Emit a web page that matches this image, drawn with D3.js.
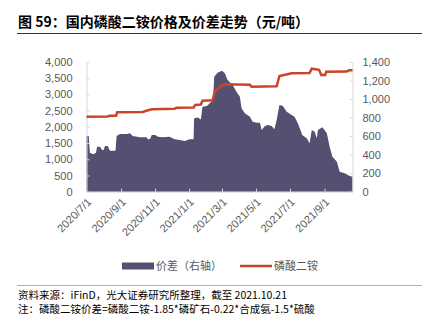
<!DOCTYPE html>
<html><head><meta charset="utf-8">
<script src="https://cdn.jsdelivr.net/npm/d3@7"></script>
<style>
html,body{margin:0;padding:0;background:#fff;}
svg{display:block;}
text{font-family:"Liberation Sans","Noto Sans CJK SC",sans-serif;}
.cjk{font-family:"Noto Sans CJK SC","Liberation Sans",sans-serif;}
</style></head>
<body>
<script>
// ---- data ----
const title = "图 59：国内磷酸二铵价格及价差走势（元/吨）";
const source = "资料来源：iFinD，光大证券研究所整理，截至 2021.10.21";
const note = "注：磷酸二铵价差=磷酸二铵-1.85*磷矿石-0.22*合成氨-1.5*硫酸";
const seriesNames = ["价差（右轴）", "磷酸二铵"];
const leftTicks = [0,500,1000,1500,2000,2500,3000,3500,4000];
const rightTicks = [0,200,400,600,800,1000,1200,1400];
const xTickLabels = ["2020/7/1","2020/9/1","2020/11/1","2021/1/1","2021/3/1","2021/5/1","2021/7/1","2021/9/1"];
const xDomain = ["2020-07-01","2021-10-21"];

// 价差 (right axis)
const spreadDates = ["2020-07-01","2020-07-05","2020-07-07","2020-07-13","2020-07-18","2020-07-20","2020-07-25","2020-07-29","2020-08-01","2020-08-03","2020-08-08","2020-08-12","2020-08-22","2020-08-24","2020-08-30","2020-09-11","2020-09-17","2020-09-22","2020-10-05","2020-10-17","2020-10-19","2020-10-23","2020-10-26","2020-11-01","2020-11-06","2020-11-15","2020-11-27","2020-12-06","2020-12-15","2020-12-24","2021-01-02","2021-01-09","2021-01-10","2021-01-17","2021-01-22","2021-01-25","2021-02-02","2021-02-07","2021-02-13","2021-02-15","2021-02-21","2021-03-01","2021-03-06","2021-03-11","2021-03-20","2021-03-27","2021-04-02","2021-04-05","2021-04-11","2021-04-20","2021-04-25","2021-05-02","2021-05-08","2021-05-11","2021-05-17","2021-05-22","2021-05-29","2021-06-03","2021-06-07","2021-06-12","2021-06-18","2021-06-25","2021-07-04","2021-07-09","2021-07-15","2021-07-23","2021-07-31","2021-08-05","2021-08-09","2021-08-14","2021-08-18","2021-08-20","2021-08-28","2021-09-05","2021-09-10","2021-09-15","2021-09-23","2021-09-28","2021-10-07","2021-10-16","2021-10-21"];
const spreadValues = [600,600,420,405,420,486,486,450,450,493,493,443,443,601,623,623,630,601,587,587,565,570,612,612,594,587,594,565,558,547,565,565,792,800,780,918,925,954,990,1241,1284,1306,1278,1206,1152,1080,1025,900,846,810,756,745,745,666,709,720,710,673,774,936,925,864,828,810,738,612,576,522,666,648,576,666,695,630,486,378,324,216,198,170,162];

// 磷酸二铵 (left axis)
const priceDates = ["2020-07-01","2020-08-08","2020-08-12","2020-08-23","2020-08-25","2020-10-10","2020-10-15","2020-10-26","2020-12-06","2020-12-10","2021-01-09","2021-01-12","2021-01-22","2021-01-25","2021-02-12","2021-02-16","2021-02-21","2021-02-27","2021-03-06","2021-04-20","2021-04-23","2021-06-07","2021-06-12","2021-07-04","2021-08-05","2021-08-09","2021-08-22","2021-08-26","2021-09-02","2021-09-04","2021-10-10","2021-10-16","2021-10-21"];
const priceValues = [2313,2320,2340,2345,2449,2460,2489,2541,2560,2591,2600,2674,2690,2807,2820,3080,3160,3260,3312,3300,3238,3250,3568,3651,3660,3793,3760,3599,3600,3701,3705,3750,3740];

// ---- chart ----
const W = 429, H = 324;
const areaColor = "#545072", lineColor = "#CC4426", txt = "#595959", axisC = "#d9d9d9";
const parse = d3.timeParse("%Y-%m-%d");
const m = {l:86.5, r:352.5, t:62, b:191.7};

const svg = d3.select("body").append("svg").attr("width", W).attr("height", H);

svg.append("text").attr("class","cjk").attr("x",18).attr("y",27)
  .attr("font-size",14).attr("font-weight","bold").attr("fill","#000").text(title);
svg.append("line").attr("x1",17).attr("x2",422).attr("y1",33.5).attr("y2",33.5)
  .attr("stroke","#333").attr("stroke-width",1);

const x = d3.scaleTime().domain(xDomain.map(parse)).range([m.l, m.r]);
const yL = d3.scaleLinear().domain([0,4000]).range([m.b, m.t]);
const yR = d3.scaleLinear().domain([0,1400]).range([m.b, m.t]);

const spread = spreadDates.map((d,i)=>({d:parse(d), v:spreadValues[i]}));
const price = priceDates.map((d,i)=>({d:parse(d), v:priceValues[i]}));

svg.append("path").datum(spread)
  .attr("d", d3.area().x(p=>x(p.d)).y0(m.b).y1(p=>yR(p.v)))
  .attr("fill", areaColor);

// axes
const gL = svg.append("g").attr("transform",`translate(${m.l},0)`)
  .call(d3.axisLeft(yL).tickValues(leftTicks).tickFormat(d3.format(",")).tickSizeInner(-3).tickSizeOuter(0).tickPadding(14));
const gR = svg.append("g").attr("transform",`translate(${m.r},0)`)
  .call(d3.axisRight(yR).tickValues(rightTicks).tickFormat(d3.format(",")).tickSizeInner(-3).tickSizeOuter(0).tickPadding(10));
const xTicks = xTickLabels.map(s=>d3.timeParse("%Y/%-m/%-d")(s));
const gB = svg.append("g").attr("transform",`translate(0,${m.b})`)
  .call(d3.axisBottom(x).tickValues(xTicks).tickFormat(d3.timeFormat("%Y/%-m/%-d")).tickSizeInner(-3).tickSizeOuter(0));
[gL,gR,gB].forEach(g=>{
  g.select(".domain").attr("stroke",axisC);
  g.selectAll(".tick line").attr("stroke",axisC);
  g.selectAll("text").attr("fill",txt).attr("font-size",11)
   .attr("font-family",'"Liberation Sans",sans-serif');
});
gB.selectAll(".tick text").attr("font-size",11).attr("y",0).attr("dy",0)
  .attr("text-anchor","end").attr("transform","translate(5,11) rotate(-45)");
gB.selectAll(".tick").filter((d,i)=>i===0).select("line").remove();

svg.append("path").datum(price)
  .attr("d", d3.line().x(p=>x(p.d)).y(p=>yL(p.v)))
  .attr("fill","none").attr("stroke", lineColor).attr("stroke-width",2.5);

// legend
const ly = 266;
svg.append("rect").attr("x",122).attr("y",ly-3.5).attr("width",32).attr("height",7).attr("fill",areaColor);
svg.append("text").attr("class","cjk").attr("x",156).attr("y",ly).attr("dy","0.35em")
  .attr("font-size",11).attr("fill",txt).text(seriesNames[0]);
svg.append("line").attr("x1",240).attr("x2",272).attr("y1",ly).attr("y2",ly)
  .attr("stroke",lineColor).attr("stroke-width",2.5);
svg.append("text").attr("class","cjk").attr("x",274).attr("y",ly).attr("dy","0.35em")
  .attr("font-size",11).attr("fill",txt).text(seriesNames[1]);

// footer
svg.append("line").attr("x1",17).attr("x2",422).attr("y1",285.5).attr("y2",285.5)
  .attr("stroke","#9a9a9a").attr("stroke-width",0.8);
svg.append("text").attr("class","cjk").attr("x",18).attr("y",299)
  .attr("font-size",10.5).attr("fill","#000").text(source);
svg.append("text").attr("class","cjk").attr("x",18).attr("y",313)
  .attr("font-size",10.5).attr("fill","#000").text(note);
</script>
</body></html>
